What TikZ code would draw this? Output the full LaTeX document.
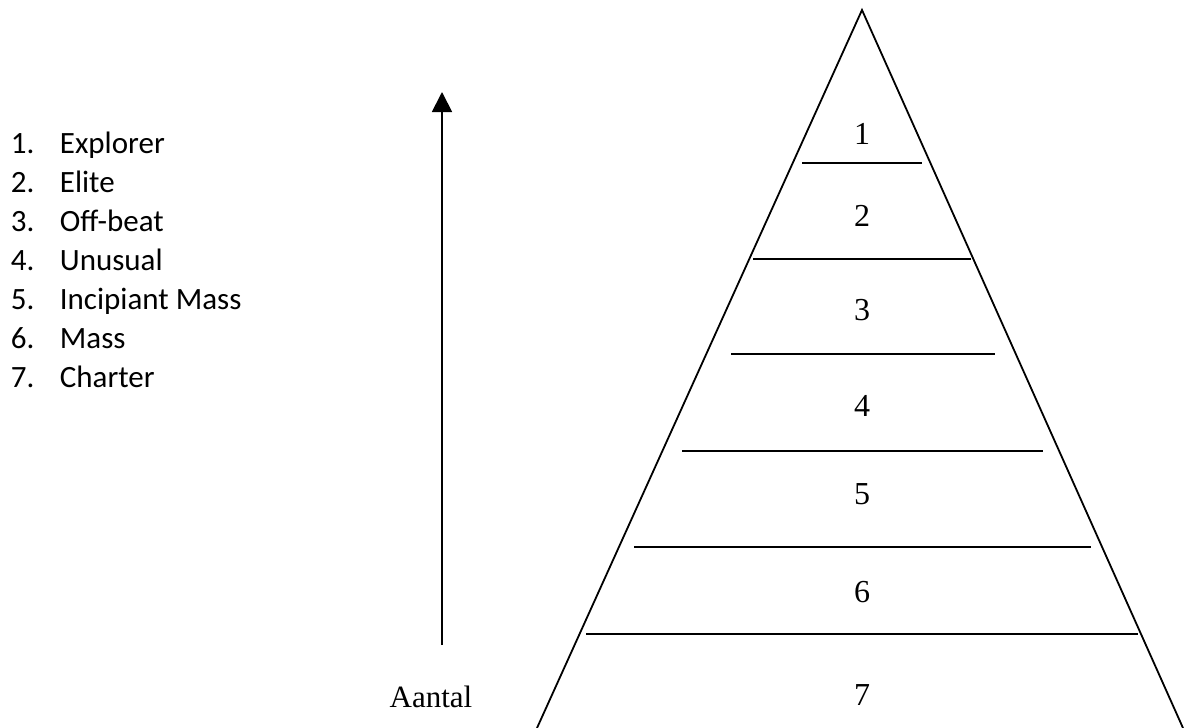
\documentclass[tikz,border=0pt]{standalone}
\usepackage{fontspec}
\setmainfont{Liberation Serif}
\newfontfamily\listfont{Carlito}
\usetikzlibrary{arrows.meta}

\begin{document}
\begin{tikzpicture}[x=1pt, y=-1pt, line width=1.8pt, line cap=butt, line join=miter,
  level/.style={anchor=center, inner sep=0pt, font=\fontsize{32}{38}\selectfont},
  item/.style={anchor=base west, inner sep=0pt, font=\listfont\fontsize{31}{38}\selectfont}]

  %% ==== pyramid ====
  \coordinate (top) at (862,10);
  \coordinate (bl) at (537,728);
  \coordinate (br) at (1183,728);
  \draw (bl) -- (top) -- (br);

  %% ==== layer lines (y, left x, right x) ====
  \foreach \y/\xl/\xr [count=\i] in {163/802/922, 259/753/971, 354/731/995,
                                    451/682/1043, 547/634/1091, 634/586/1138} {
    \coordinate (L\i) at (\xl,\y);
    \coordinate (R\i) at (\xr,\y);
    \draw (L\i) -- (R\i);
  }

  %% ==== layer numbers ====
  \foreach \y [count=\i] in {134, 216, 310, 406, 494, 592, 695}
    \node[level] (n\i) at (862,\y) {\i};

  %% ==== arrow ====
  \coordinate (arrowfoot) at (442,645);
  \coordinate (arrowtip) at (442,92);
  \draw[-{Triangle[width=20pt,length=20pt]}] (arrowfoot) -- (arrowtip);
  \node[level, font=\fontsize{31}{38}\selectfont] (aantal) at (431,697) {Aantal};

  %% ==== legend ====
  \foreach \name [count=\i] in {Explorer, Elite, Off-beat, Unusual, Incipiant Mass, Mass, Charter} {
    \node[item] (num\i) at (10,{153+39*(\i-1)}) {\i.};
    \node[item] (lbl\i) at (59,{153+39*(\i-1)}) {\name};
  }

  \pgfresetboundingbox
  \path[use as bounding box] (0,0) rectangle (1187,728);
\end{tikzpicture}
\end{document}
